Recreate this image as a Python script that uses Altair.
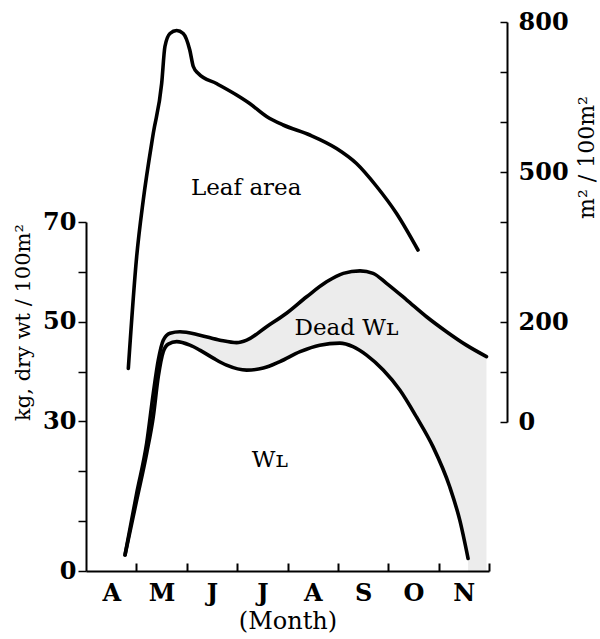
import json
import altair as alt
import pandas as pd

# ---------------- data ----------------
months = ["A", "M", "J", "J", "A", "S", "O", "N"]   # month bands, April .. November
month_ticks = [1, 2, 3, 4, 5, 6, 7, 8]               # month boundaries (May 1 .. Dec 1)

# Leaf area, m2 / 100m2 (right axis); x = months since April 1
leaf_month = [0.84, 1.006, 1.137, 1.335, 1.502, 1.567, 1.667, 1.80, 1.93, 2.06, 2.13,
              2.23, 2.59, 2.99, 3.25, 3.585, 3.915, 4.444, 4.974, 5.37, 5.77, 6.165, 6.59]
leaf_area = [107, 331, 444, 577, 677, 751, 777, 783, 777, 744, 711,
             697, 677, 654, 637, 611, 594, 574, 547, 517, 471, 417, 344]

# Total leaf weight (WL + dead WL), kg dry wt / 100m2
total_month = [0.774, 1.006, 1.204, 1.335, 1.435, 1.534, 1.667, 1.865, 2.262, 2.66, 2.99,
               3.19, 3.585, 3.98, 4.38, 4.776, 5.107, 5.44, 5.70, 5.966, 6.363, 6.76,
               7.157, 7.55, 7.95]
total_wt = [3.2, 15.6, 25.6, 35.6, 42.3, 46.3, 47.7, 48.0, 47.3, 46.3, 45.8,
            46.3, 49.0, 51.7, 55.0, 58.0, 59.7, 60.2, 59.7, 57.7, 54.4, 51.0,
            48.0, 45.3, 43.0]

# Living leaf weight WL, kg dry wt / 100m2
live_month = [0.774, 1.006, 1.204, 1.335, 1.435, 1.534, 1.633, 1.80, 2.063, 2.26, 2.526,
              2.79, 3.19, 3.52, 3.85, 4.25, 4.64, 5.04, 5.30, 5.57, 5.90, 6.23, 6.56,
              6.89, 7.22, 7.42, 7.585]
live_wt = [3.2, 14.2, 23.6, 30.9, 39.0, 44.0, 45.5, 46.0, 45.3, 44.3, 42.7,
           41.3, 40.3, 40.7, 42.0, 44.0, 45.3, 45.7, 45.0, 43.3, 40.3, 36.3, 30.9,
           24.9, 16.9, 10.2, 2.5]

left_ticks = [0, 10, 20, 30, 40, 50, 60, 70]
left_labels = [0, 30, 50, 70]
right_ticks = [0, 100, 200, 300, 400, 500, 600, 700, 800]
right_labels = [0, 200, 500, 800]

wt_text = ["W\u029f", "Dead W\u029f"]
wt_text_month = [3.65, 5.17]
wt_text_val = [22.3, 48.7]
leaf_text = ["Leaf area"]
leaf_text_month = [3.18]
leaf_text_val = [468]

# ---------------- layout ----------------
W, H = 403, 549
FONT = "DejaVu Serif"

total_df = pd.DataFrame({"m": total_month, "v": total_wt, "s": "total"})
live_df = pd.DataFrame({"m": live_month, "v": live_wt, "s": "live"})
lines_df = pd.concat([total_df, live_df], ignore_index=True)
leaf_df = pd.DataFrame({"m": leaf_month, "v": leaf_area})
wt_text_df = pd.DataFrame({"m": wt_text_month, "v": wt_text_val, "t": wt_text})
leaf_text_df = pd.DataFrame({"m": leaf_text_month, "v": leaf_text_val, "t": leaf_text})

xscale = alt.Scale(domain=[0, 8], nice=False, zero=False)
left_scale = alt.Scale(domain=[0, 70], range=[H, 200], nice=False)
right_scale = alt.Scale(domain=[0, 800], range=[400, 0], nice=False)

bottom_axis = alt.Axis(
    orient="bottom", values=[i + 0.5 for i in range(len(months))],
    labelExpr=json.dumps(months) + "[floor(datum.value)]",
    ticks=False, grid=False, domain=True, domainColor="black", domainWidth=2,
    labelFont=FONT, labelFontSize=24, labelFontWeight="bold", labelColor="black",
    labelPadding=10, labelFlush=False, labelOverlap=False, zindex=2,
    title="(Month)", titleFont=FONT, titleFontSize=24, titleFontWeight="normal",
    titleColor="black", titlePadding=4,
)
tick_x_axis = alt.Axis(
    orient="top", offset=-H, values=month_ticks, labels=False, domain=False,
    grid=False, tickSize=8, tickWidth=2, tickColor="black", title=None, zindex=2,
)
left_axis = alt.Axis(
    orient="left", values=left_ticks,
    labelExpr="indexof(" + json.dumps(left_labels) + ", datum.value) >= 0 ? datum.label : ''",
    tickSize=8, tickWidth=1.5, tickColor="black", domainColor="black", domainWidth=2,
    grid=False, labelFont=FONT, labelFontSize=24, labelFontWeight="bold",
    labelColor="black", labelPadding=2, labelOverlap=False, labelFlush=False, zindex=2,
    title="kg, dry wt / 100m\u00b2", titleFont=FONT, titleFontSize=21,
    titleFontWeight="normal", titleColor="black", titleAngle=270,
    titleX=-63, titleY=300, titleAlign="center", titleBaseline="middle",
)
right_axis = alt.Axis(
    orient="right", offset=18, values=right_labels, ticks=False, domain=True,
    domainColor="black", domainWidth=2, grid=False, zindex=2,
    labelFont=FONT, labelFontSize=24, labelFontWeight="bold", labelColor="black",
    labelPadding=11, labelOverlap=False, labelFlush=False,
    title="m\u00b2 / 100m\u00b2", titleFont=FONT, titleFontSize=22,
    titleFontWeight="normal", titleColor="black", titleAngle=270,
    titleX=79, titleY=135, titleAlign="center", titleBaseline="middle",
)
right_tick_axis = alt.Axis(
    orient="left", offset=-(W + 18), values=right_ticks, labels=False, domain=False,
    grid=False, tickSize=7, tickWidth=1.5, tickColor="black", title=None, zindex=2,
)

dead_fill = alt.Chart(total_df).mark_area(
    color="#ececec", interpolate="monotone"
).encode(
    x=alt.X("m:Q", scale=xscale, axis=bottom_axis),
    y=alt.Y("v:Q", scale=left_scale, axis=left_axis),
)
live_fill = alt.Chart(live_df).mark_area(
    color="white", interpolate="monotone"
).encode(
    x=alt.X("m:Q", scale=xscale, axis=None),
    y=alt.Y("v:Q", scale=left_scale, axis=None),
)
wt_lines = alt.Chart(lines_df).mark_line(
    color="black", strokeWidth=3.6, interpolate="monotone", strokeCap="round"
).encode(
    x=alt.X("m:Q", scale=xscale, axis=None),
    y=alt.Y("v:Q", scale=left_scale, axis=None),
    detail="s:N",
)
wt_labels = alt.Chart(wt_text_df).mark_text(
    font=FONT, fontSize=23, color="black", align="center", baseline="middle"
).encode(
    x=alt.X("m:Q", scale=xscale, axis=None),
    y=alt.Y("v:Q", scale=left_scale, axis=None),
    text="t:N",
)
leaf_line = alt.Chart(leaf_df).mark_line(
    color="black", strokeWidth=3.6, interpolate="monotone", strokeCap="round"
).encode(
    x=alt.X("m:Q", scale=xscale, axis=tick_x_axis),
    y=alt.Y("v:Q", scale=right_scale, axis=right_axis),
)
leaf_label = alt.Chart(leaf_text_df).mark_text(
    font=FONT, fontSize=23, color="black", align="center", baseline="middle"
).encode(
    x=alt.X("m:Q", scale=xscale, axis=None),
    y=alt.Y("v:Q", scale=right_scale, axis=right_tick_axis),
    text="t:N",
)

chart = alt.layer(
    dead_fill, live_fill, wt_lines, wt_labels, leaf_line, leaf_label
).resolve_scale(
    y="independent"
).resolve_axis(
    x="independent", y="independent"
).properties(
    width=W, height=H,
    autosize=alt.AutoSizeParams(type="none"),
    padding={"left": 86, "top": 22, "right": 111, "bottom": 68},
    background="white",
).configure_view(stroke=None)

chart.save("out.html", embed_options={"renderer": "svg", "actions": False})
